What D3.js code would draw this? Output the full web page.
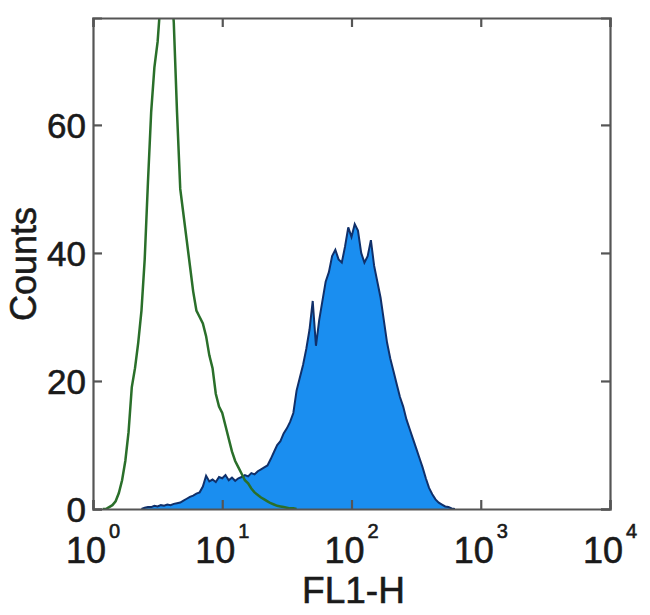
<!DOCTYPE html>
<html>
<head>
<meta charset="utf-8">
<script src="https://cdn.jsdelivr.net/npm/d3@7"></script>
<style>
  body { margin: 0; background: #fff; }
  text { font-family: "Liberation Sans", Arial, sans-serif; fill: #1a1a1a; stroke: #1a1a1a; stroke-width: 0.6; }
  .axis line, .axis path { stroke: #555; }
</style>
</head>
<body>
<div id="chart"></div>
<script>
// histogram bins, 0.025 decade wide, first bin at given log10 position
const binStep = 0.025;

// isotype control (green outline)
const greenStart = 0.075;
const greenCounts = [
  0, 0, 0.3, 0.6, 1.2, 2.5, 4.5, 7.5, 12, 19,
  22, 26, 31, 39, 51, 62, 69, 73, 80, 84,
  78, 83, 76, 62, 50, 46, 42, 38, 34, 31,
  30, 29, 27, 24, 22, 18, 16, 15, 13, 11,
  9, 7.5, 6.5, 5.5, 4.5, 4, 3.2, 2.6, 2.2, 1.8,
  1.5, 1.2, 0.9, 0.7, 0.5, 0.4, 0.3, 0.2, 0.1, 0.1,
  0
];

// stained sample (blue fill)
const blueStart = 0.375;
const blueCounts = [
  0, 0.2, 0.3, 0.3, 0.5, 0.4, 0.6, 0.5, 0.7, 0.6,
  0.8, 0.9, 1.0, 1.3, 1.6, 1.9, 2.1, 2.4, 2.6, 3.5,
  5.2, 4.3, 4.6, 4.2, 5.0, 4.8, 5.3, 4.5, 4.9, 4.4,
  4.8, 5.0, 5.3, 5.1, 5.6, 5.4, 5.9, 6.2, 6.5, 6.8,
  7.8, 8.9, 10.0, 10.6, 11.8, 12.6, 13.6, 15.0, 18.5, 20.5,
  22.5, 25.0, 28.0, 32.5, 25.5, 29.5, 32.5, 35.5, 37.0, 39.5,
  40.5, 39.0, 38.5, 41.0, 44.0, 42.5, 44.5, 43.5, 40.0, 38.5,
  39.5, 42.0, 38.0, 35.5, 33.0, 29.5, 26.0, 23.5, 21.5, 19.5,
  17.5, 16.0, 14.0, 12.5, 11.0, 9.5, 8.0, 6.5, 4.8, 3.3,
  2.3, 1.5, 1.0, 0.7, 0.4, 0.3, 0.1, 0
];

const xTicks = [1, 10, 100, 1000, 10000];
const xExponents = ['0', '1', '2', '3', '4'];
const yTicks = [0, 20, 40, 60];

const W = 650, H = 615;
const box = { left: 93, right: 610, top: 18, bottom: 509 };

const toPoints = (start, counts) =>
  counts.map((c, i) => ({ v: Math.pow(10, start + i * binStep), c: c }));

const svg = d3.select('#chart').append('svg')
  .attr('width', W)
  .attr('height', H);

const x = d3.scaleLog().domain([1, 10000]).range([box.left, box.right]);
const y = d3.scaleLinear().domain([0, 76.7]).range([box.bottom, box.top]);

svg.append('clipPath').attr('id', 'plot-clip')
  .append('rect')
  .attr('x', box.left).attr('y', box.top)
  .attr('width', box.right - box.left)
  .attr('height', box.bottom - box.top);

const plot = svg.append('g').attr('clip-path', 'url(#plot-clip)');

// blue filled histogram
const area = d3.area()
  .x(d => x(d.v))
  .y0(y(0))
  .y1(d => y(d.c));
const line = d3.line()
  .x(d => x(d.v))
  .y(d => y(d.c));

const blue = toPoints(blueStart, blueCounts);
plot.append('path')
  .datum(blue)
  .attr('d', area)
  .attr('fill', '#1a8ef0');
plot.append('path')
  .datum(blue)
  .attr('d', line)
  .attr('fill', 'none')
  .attr('stroke', '#10306a')
  .attr('stroke-width', 2);

// green outline histogram
const green = toPoints(greenStart, greenCounts);
plot.append('path')
  .datum(green)
  .attr('d', line)
  .attr('fill', 'none')
  .attr('stroke', '#2a6f2a')
  .attr('stroke-width', 2.5);

// axes, ticks pointing inward on all four sides
const tickLen = 9;
const axisBottom = d3.axisBottom(x).tickValues(xTicks).tickSize(-tickLen).tickFormat('');
const axisTop = d3.axisTop(x).tickValues(xTicks).tickSize(-tickLen).tickFormat('');
const axisLeft = d3.axisLeft(y).tickValues(yTicks).tickSize(-tickLen).tickFormat('');
const axisRight = d3.axisRight(y).tickValues(yTicks).tickSize(-tickLen).tickFormat('');

[[axisBottom, 'translate(0,' + box.bottom + ')'],
 [axisTop, 'translate(0,' + box.top + ')'],
 [axisLeft, 'translate(' + box.left + ',0)'],
 [axisRight, 'translate(' + box.right + ',0)']].forEach(([ax, tr]) => {
  const g = svg.append('g').attr('class', 'axis').attr('transform', tr).call(ax);
  g.select('.domain').attr('stroke-width', 2.2);
  g.selectAll('.tick line').attr('stroke-width', 2.2);
});

// y tick labels
svg.append('g').selectAll('text')
  .data(yTicks)
  .join('text')
  .attr('x', box.left - 7)
  .attr('y', d => y(d) + 13)
  .attr('text-anchor', 'end')
  .attr('font-size', 35)
  .text(d => d);

// x tick labels: 10 with superscript exponent
const xl = svg.append('g').selectAll('text')
  .data(xTicks)
  .join('text')
  .attr('x', d => x(d))
  .attr('y', 563)
  .attr('text-anchor', 'middle')
  .attr('font-size', 36);
xl.append('tspan').text('10');
xl.append('tspan')
  .attr('font-size', 20)
  .attr('dx', 3)
  .attr('dy', -25)
  .text((d, i) => xExponents[i]);

// axis titles
svg.append('text')
  .attr('x', x(100) + 2)
  .attr('y', 603)
  .attr('text-anchor', 'middle')
  .attr('font-size', 37)
  .text('FL1-H');

svg.append('text')
  .attr('transform', 'translate(36,264) rotate(-90)')
  .attr('text-anchor', 'middle')
  .attr('font-size', 36)
  .text('Counts');
</script>
</body>
</html>
